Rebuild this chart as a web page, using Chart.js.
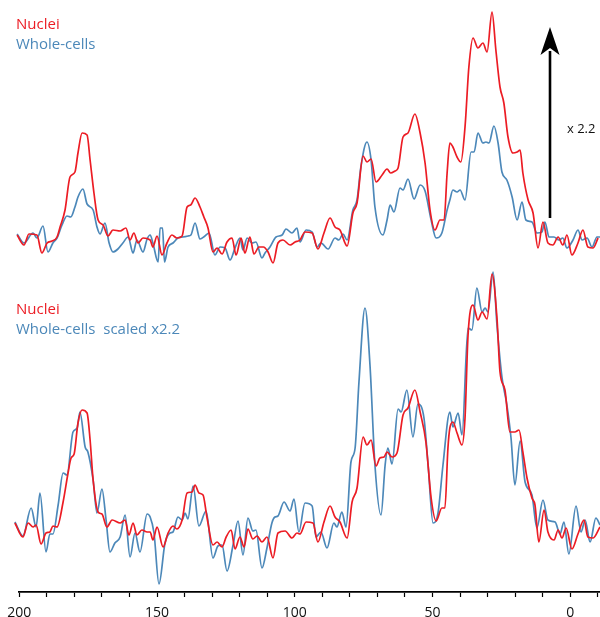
<!DOCTYPE html>
<html>
<head>
<meta charset="utf-8">
<title>Nuclei vs whole-cells spectra</title>
<script src="https://cdn.jsdelivr.net/npm/chart.js@4.4.1/dist/chart.umd.min.js"></script>
<style>
  html, body { margin: 0; padding: 0; background: #fff; }
  #wrap { position: relative; width: 600px; height: 617px; overflow: hidden; font-family: "Open Sans", "DejaVu Sans", sans-serif; }
  canvas { position: absolute; left: 0; }
  #topChart { top: 0; }
  #bottomChart { top: 262px; }
  .legend { position: absolute; left: 16px; font-size: 15px; line-height: 19.5px; white-space: pre; }
  #arrowLabel { position: absolute; left: 567px; top: 119px; font-size: 13px; line-height: 18px; color: #111; white-space: pre; }
</style>
</head>
<body>
<div id="wrap">
  <canvas id="topChart" width="600" height="270"></canvas>
  <canvas id="bottomChart" width="600" height="355"></canvas>
  <div id="legendTop" class="legend" style="top:14px"></div>
  <div id="legendBottom" class="legend" style="top:299px"></div>
  <div id="arrowLabel"></div>
</div>
<script>
// Chemical shift axis (ppm), drawn right-to-left
const X_LEFT = 200;
const X_RIGHT = -10.8;
const TICK_STEP = 10;
const LABEL_STEP = 50;

const NUCLEI_COLOR = '#ec1c24';
const WHOLE_COLOR = '#4c88b9';

// ---- Upper panel: raw intensities (arbitrary units) ----
const topNucleiPpm = [
  200.8, 198.3, 196.5, 193.6, 191.8, 189.9, 188.1, 186.3, 185.2, 183.4,
  181.6, 179.8, 178.7, 177.2, 175.4, 174.3, 172.9, 171.4, 169.6, 167.8,
  166.0, 163.4, 161.3, 159.8, 158.4, 156.9, 155.1, 152.5, 151.5, 150.0,
  148.2, 146.4, 144.6, 142.8, 140.9, 139.1, 137.8, 136.2, 134.4, 133.0,
  131.5, 129.7, 128.2, 126.4, 124.6, 122.8, 121.3, 119.5, 118.1, 116.3,
  114.8, 113.0, 111.4, 109.7, 107.9, 106.1, 104.3, 101.7, 99.9, 98.1,
  96.3, 93.7, 91.6, 89.4, 87.2, 85.4, 83.6, 81.0, 78.9, 77.4,
  75.2, 73.8, 72.3, 70.5, 68.3, 66.5, 65.2, 63.6, 62.5, 60.7,
  58.9, 56.4, 54.5, 52.7, 50.9, 49.1, 47.3, 45.8, 44.7, 43.7,
  42.6, 41.1, 39.7, 38.2, 36.8, 35.3, 33.5, 31.7, 30.2, 28.4,
  27.0, 25.5, 24.1, 22.6, 20.8, 19.3, 18.2, 17.2, 15.3, 13.5,
  11.7, 9.9, 8.1, 6.3, 4.4, 2.7, 1.2, -0.6, -2.8, -4.6,
  -6.4, -8.3, -10.1
];
const topNuclei = [
  8, -2, 9, 8, -10, 0, 2, 6, 16, 33,
  66, 71, 90, 110, 108, 83, 50, 23, 18, 7,
  13, 12, 15, 3, 10, 0, 5, 3, -4, 7,
  -12, 0, 8, 5, 7, 36, 38, 45, 36, 26,
  15, -9, -5, -11, 1, 5, -12, 5, -10, 6,
  -11, -4, -4, -9, -20, 0, 3, -2, 1, 3,
  11, 10, -6, 10, 25, 16, 13, -3, 30, 40,
  87, 81, 84, 61, 68, 74, 70, 72, 75, 106,
  110, 129, 110, 80, 33, 13, 23, 23, 70, 100,
  96, 86, 81, 116, 176, 205, 195, 200, 191, 231,
  193, 156, 140, 106, 90, 91, 93, 70, 43, 30,
  -5, 21, 0, -2, 6, -2, 8, -12, 0, 13,
  -4, -5, 5
];

const topWholePpm = [
  200.8, 198.3, 195.0, 193.6, 191.4, 189.6, 187.8, 186.3, 184.5, 182.7,
  181.3, 179.8, 178.7, 176.9, 175.4, 173.2, 171.8, 170.7, 168.9, 167.4,
  166.0, 164.2, 162.4, 160.5, 158.7, 157.3, 155.1, 153.6, 152.5, 151.5,
  149.6, 148.9, 148.0, 147.3, 146.0, 144.2, 142.4, 140.6, 138.7, 137.7,
  136.2, 134.4, 132.6, 131.1, 129.0, 127.1, 125.3, 123.5, 121.7, 119.9,
  118.8, 117.3, 115.5, 114.1, 111.9, 110.8, 109.0, 106.8, 104.6, 103.2,
  101.0, 99.2, 98.1, 95.9, 93.7, 91.9, 90.5, 87.9, 85.4, 84.0,
  82.5, 81.0, 78.9, 77.4, 76.0, 73.8, 72.3, 70.9, 68.0, 66.5,
  65.4, 64.0, 61.8, 60.7, 58.9, 56.7, 54.5, 52.7, 50.5, 48.7,
  46.6, 44.7, 43.7, 42.6, 41.1, 40.0, 38.2, 36.0, 34.9, 33.5,
  31.7, 30.6, 29.5, 27.7, 26.2, 24.8, 23.0, 21.1, 19.3, 17.5,
  16.1, 13.9, 12.1, 10.3, 9.2, 7.7, 5.9, 4.1, 2.7, 1.2,
  -1.0, -2.8, -4.3, -6.1, -7.9, -9.7, -10.8
];
const topWhole = [
  9, 0, 10, 5, 17, -9, 0, 5, 18, 27,
  26, 36, 46, 54, 39, 33, 16, 9, 20, 0,
  -9, -6, 0, 6, -10, 3, -9, 4, 8, 0,
  -19, 15, 15, -19, -4, 0, 5, 6, 7, 8,
  20, 4, 7, 10, -12, -4, -5, -17, -5, 5,
  -7, 5, 0, 1, -15, -10, -4, 6, 8, 14,
  10, 15, 1, 13, 11, -4, 0, -6, 5, 3,
  9, 3, 33, 43, 76, 101, 83, 36, 8, 23,
  38, 31, 55, 53, 64, 44, 58, 52, 23, 5,
  10, 33, 43, 53, 51, 53, 43, 91, 91, 110,
  100, 101, 100, 117, 100, 71, 63, 46, 23, 41,
  23, 21, 10, 11, 21, 6, 6, 3, 5, -5,
  3, 13, 3, 5, -4, 6, 6
];

// ---- Lower panel: nuclei and whole-cells scaled x2.2 ----
const botNucleiPpm = [
  201.6, 198.7, 196.8, 195.0, 193.9, 192.1, 190.3, 188.9, 187.8, 186.3,
  184.1, 182.3, 181.2, 180.1, 178.7, 177.2, 175.4, 174.3, 173.2, 171.4,
  170.0, 168.2, 166.3, 163.4, 161.6, 160.2, 158.7, 157.3, 155.5, 153.6,
  152.5, 151.5, 150.0, 147.8, 146.0, 144.2, 142.8, 140.9, 139.1, 137.3,
  136.2, 134.8, 133.3, 131.9, 129.7, 128.2, 126.4, 124.9, 123.1, 121.7,
  119.9, 118.4, 117.0, 115.2, 113.7, 111.9, 110.1, 107.9, 106.1, 103.5,
  101.0, 99.2, 98.1, 95.9, 93.4, 91.6, 89.4, 87.2, 85.4, 83.6,
  81.0, 79.2, 77.4, 75.2, 73.8, 72.3, 70.5, 69.1, 67.6, 66.5,
  64.7, 62.9, 60.7, 58.9, 56.4, 54.5, 52.4, 50.5, 48.7, 46.6,
  45.5, 44.4, 43.7, 42.6, 41.1, 39.3, 38.2, 37.1, 35.3, 33.5,
  32.0, 30.2, 28.4, 26.6, 25.5, 23.7, 21.9, 20.1, 18.6, 17.2,
  15.7, 13.9, 12.8, 11.4, 9.5, 8.1, 5.9, 4.4, 3.0, 1.5,
  -0.6, -2.8, -5.0, -6.4, -8.3, -10.8
];
const botNuclei = [
  7, -7, 7, 3, 5, -14, -3, -2, 4, 3,
  28, 57, 72, 76, 107, 120, 117, 90, 50, 18,
  16, 3, 10, 7, 10, -5, 7, -5, 0, -2,
  -2, -10, 3, -17, -3, 4, 1, 10, 37, 38,
  45, 37, 35, 13, -15, -12, -17, -7, 0, -19,
  -7, -17, 1, -9, -6, -12, -7, -28, -3, -1,
  -8, -3, -4, 8, 7, -12, 8, 24, 13, 8,
  -8, 28, 42, 93, 85, 90, 64, 72, 73, 78,
  73, 77, 115, 122, 140, 118, 88, 32, 9, 22,
  22, 82, 102, 108, 97, 85, 112, 195, 225, 210,
  218, 211, 256, 212, 158, 140, 98, 98, 100, 78,
  52, 32, 25, -12, 20, -2, -10, 0, -8, 2,
  -19, -4, 10, -7, -8, 3
];

const botWholeScaledPpm = [
  201.6, 198.7, 195.7, 193.9, 192.5, 190.3, 188.9, 187.8, 185.9, 184.1,
  182.7, 180.5, 179.0, 178.0, 176.1, 175.1, 173.2, 171.8, 170.0, 168.5,
  167.1, 165.3, 163.4, 161.6, 159.8, 158.0, 156.2, 153.6, 152.5, 151.1,
  149.3, 147.1, 145.3, 144.2, 142.4, 140.9, 139.8, 138.8, 136.9, 134.8,
  132.2, 129.7, 127.9, 126.4, 124.6, 122.4, 120.6, 118.8, 117.0, 115.2,
  114.1, 111.9, 110.1, 108.3, 107.2, 106.1, 103.9, 101.7, 100.3, 98.5,
  96.3, 93.7, 92.3, 90.5, 88.3, 85.8, 84.7, 82.9, 81.4, 79.6,
  78.1, 76.7, 74.5, 72.7, 70.9, 68.7, 67.2, 66.2, 64.7, 62.5,
  61.4, 59.3, 57.1, 55.3, 53.1, 51.6, 49.8, 48.0, 46.2, 43.7,
  42.6, 40.7, 39.3, 37.1, 35.7, 33.9, 32.0, 30.9, 29.9, 28.0,
  26.6, 24.8, 23.0, 21.5, 20.1, 18.2, 16.4, 13.9, 12.1, 9.9,
  8.1, 5.5, 3.7, 2.3, 0.5, -2.1, -3.9, -5.4, -7.2, -9.3,
  -10.8
];
const botWholeScaled = [
  8, -6, 22, 3, 37, -22, -4, -4, 25, 57,
  55, 98, 102, 118, 83, 78, 50, 17, 41, 10,
  -22, -13, -7, 15, -27, -3, -22, 16, 13, -3,
  -54, -13, -3, -2, 13, 10, 17, 11, 44, 4,
  19, -28, -16, -15, -41, -15, 9, -25, 12, -1,
  0, -38, -18, 7, 13, 14, 28, 19, 31, -2,
  27, 24, -7, -2, -18, 7, 3, 18, 3, 68,
  82, 148, 222, 165, 65, 15, 65, 82, 66, 121,
  118, 140, 93, 126, 112, 65, 7, 17, 65, 118,
  103, 117, 95, 202, 200, 242, 218, 222, 218, 258,
  205, 153, 125, 92, 45, 89, 48, 35, 2, 30,
  10, 8, -4, 8, -24, 24, -2, 10, -12, 12,
  5
];

// Intensity windows of the two panels
const TOP_Y_MIN = -27, TOP_Y_MAX = 243;
const BOT_Y_MIN = -62, BOT_Y_MAX = 268;

// Scale-up arrow in the upper panel
const ARROW_PPM = 7.35;
const ARROW_FROM = 25;
const ARROW_TO = 216;
const ARROW_TEXT = 'x 2.2';

const pts = (xs, ys) => xs.map((x, i) => ({ x: x, y: ys[i] }));

function lineSet(label, color, xs, ys) {
  return {
    label: label,
    data: pts(xs, ys),
    borderColor: color,
    backgroundColor: color,
    borderWidth: 1.7,
    pointRadius: 0,
    cubicInterpolationMode: 'monotone',
    fill: false,
    clip: false
  };
}

function xAxis(show) {
  const axis = {
    type: 'linear',
    reverse: true,
    min: X_RIGHT,
    max: X_LEFT,
    display: show,
    border: { display: true, color: '#000', width: 1.8 },
    grid: { display: true, drawOnChartArea: false, drawTicks: true, tickLength: 5, tickColor: '#000', tickWidth: 1.2 },
    ticks: {
      stepSize: TICK_STEP,
      includeBounds: false,
      autoSkip: false,
      maxRotation: 0,
      padding: 8,
      color: '#111',
      font: { family: '"Open Sans", "DejaVu Sans", sans-serif', size: 14 },
      callback: (v) => (v % LABEL_STEP === 0 ? String(v) : '')
    }
  };
  if (show) {
    // fixed axis band; the left layout padding already leaves room for "200"
    axis.afterFit = (s) => { s.height = 25; s.paddingLeft = 0; s.paddingRight = 0; };
  }
  return axis;
}

const arrowPlugin = {
  id: 'scaleArrow',
  afterDatasetsDraw(chart) {
    const xs = chart.scales.x, ys = chart.scales.y;
    const x = xs.getPixelForValue(ARROW_PPM);
    const yFrom = ys.getPixelForValue(ARROW_FROM);
    const yTo = ys.getPixelForValue(ARROW_TO);
    const headLen = 28, headHalf = 9.5;
    const ctx = chart.ctx;
    ctx.save();
    ctx.strokeStyle = '#000';
    ctx.fillStyle = '#000';
    ctx.lineWidth = 2.6;
    ctx.beginPath();
    ctx.moveTo(x, yFrom);
    ctx.lineTo(x, yTo + headLen - 4);
    ctx.stroke();
    ctx.beginPath();
    ctx.moveTo(x, yTo);
    ctx.lineTo(x + headHalf, yTo + headLen);
    ctx.lineTo(x, yTo + headLen - 7);
    ctx.lineTo(x - headHalf, yTo + headLen);
    ctx.closePath();
    ctx.fill();
    ctx.restore();
  }
};

function makeChart(id, datasets, yMin, yMax, showX, plugins) {
  return new Chart(document.getElementById(id), {
    type: 'line',
    data: { datasets: datasets },
    options: {
      responsive: false,
      animation: false,
      events: [],
      layout: { padding: { left: 19.3, right: 0, top: 0, bottom: 0 } },
      plugins: { legend: { display: false }, tooltip: { enabled: false } },
      scales: {
        x: xAxis(showX),
        y: { display: false, min: yMin, max: yMax }
      }
    },
    plugins: plugins || []
  });
}

const topChart = makeChart('topChart', [
  lineSet('Nuclei', NUCLEI_COLOR, topNucleiPpm, topNuclei),
  lineSet('Whole-cells', WHOLE_COLOR, topWholePpm, topWhole)
], TOP_Y_MIN, TOP_Y_MAX, false, [arrowPlugin]);

const bottomChart = makeChart('bottomChart', [
  lineSet('Nuclei', NUCLEI_COLOR, botNucleiPpm, botNuclei),
  lineSet('Whole-cells  scaled x2.2', WHOLE_COLOR, botWholeScaledPpm, botWholeScaled)
], BOT_Y_MIN, BOT_Y_MAX, true);

// Text legends built from the dataset labels and colours
function fillLegend(el, chart) {
  chart.data.datasets.forEach((ds) => {
    const d = document.createElement('div');
    d.textContent = ds.label;
    d.style.color = ds.borderColor;
    el.appendChild(d);
  });
}
fillLegend(document.getElementById('legendTop'), topChart);
fillLegend(document.getElementById('legendBottom'), bottomChart);
document.getElementById('arrowLabel').textContent = ARROW_TEXT;
</script>
</body>
</html>
